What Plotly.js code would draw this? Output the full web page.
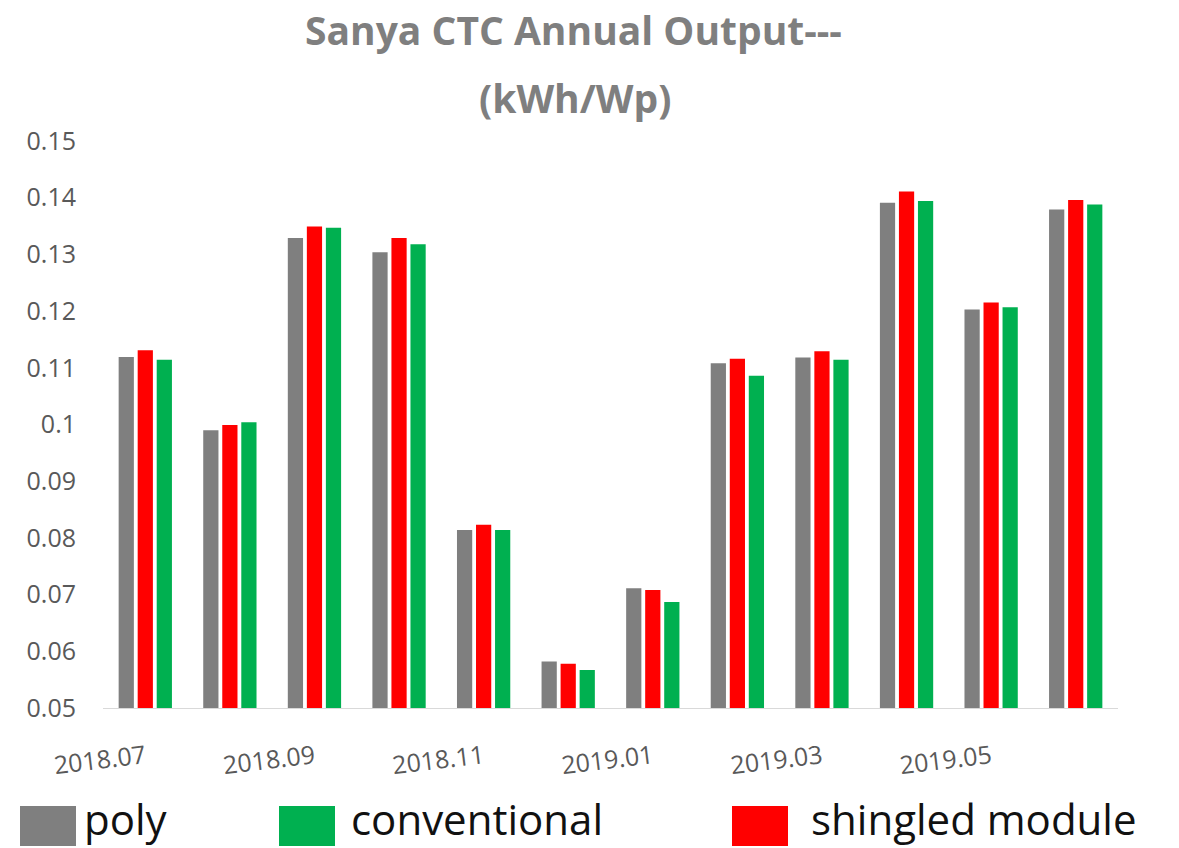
<!DOCTYPE html>
<html>
<head>
<meta charset="utf-8">
<script src="https://cdn.plot.ly/plotly-3.0.1.min.js"></script>
<style>html,body{margin:0;padding:0;background:#fff;}#chart{width:1179px;height:848px;}</style>
</head>
<body>
<div id="chart"></div>
<script>
// ---- data ----
const months = ['2018.07','2018.08','2018.09','2018.10','2018.11','2018.12','2019.01','2019.02','2019.03','2019.04','2019.05','2019.06'];
const tickLabels = ['2018.07','2018.09','2018.11','2019.01','2019.03','2019.05'];
const poly         = [0.1119, 0.0990, 0.1329, 0.1304, 0.0814, 0.0582, 0.0711, 0.1108, 0.1118, 0.1391, 0.1203, 0.1379];
const shingled     = [0.1131, 0.0999, 0.1349, 0.1329, 0.0823, 0.0578, 0.0708, 0.1116, 0.1129, 0.1411, 0.1215, 0.1396];
const conventional = [0.1114, 0.1004, 0.1347, 0.1318, 0.0814, 0.0567, 0.0687, 0.1086, 0.1114, 0.1394, 0.1207, 0.1388];
const seriesNames  = ['poly', 'conventional', 'shingled module'];
const titleLines   = ['Sanya CTC Annual Output---', '(kWh/Wp)'];

// ---- styling ----
const colors = {poly:'#7f7f7f', conventional:'#00b050', shingled:'#ff0000'};
const W = 1179, H = 848;
const M = {l:103, r:61, t:141, b:140};
const PW = W - M.l - M.r, PH = H - M.t - M.b;
const px = x => (x - M.l) / PW;          // pixel -> paper x
const py = y => (H - M.b - y) / PH;      // pixel -> paper y

const traces = [
  {type:'bar', name:seriesNames[0], x:months, y:poly, marker:{color:colors.poly}, showlegend:false},
  {type:'bar', name:seriesNames[2], x:months, y:shingled, marker:{color:colors.shingled}, showlegend:false},
  {type:'bar', name:seriesNames[1], x:months, y:conventional, marker:{color:colors.conventional}, showlegend:false}
];

// manual legend (large swatches as in the reference)
const legendItems = [
  {name:seriesNames[0], color:colors.poly, sx:20, tx:82},
  {name:seriesNames[1], color:colors.conventional, sx:279, tx:349},
  {name:seriesNames[2], color:colors.shingled, sx:732, tx:809}
];
const shapes = legendItems.map(it => ({
  type:'rect', xref:'paper', yref:'paper',
  x0:px(it.sx), x1:px(it.sx+56), y0:py(846), y1:py(806),
  fillcolor:it.color, line:{width:0}
}));
const annotations = legendItems.map(it => ({
  xref:'paper', yref:'paper', x:px(it.tx), y:py(849), xanchor:'left', yanchor:'bottom',
  text:it.name, showarrow:false, font:{family:'Open Sans', size:42, color:'#111111'}
}));
annotations.push(
  {xref:'paper', yref:'paper', x:px(573), y:py(29), xanchor:'center', yanchor:'middle', text:titleLines[0], showarrow:false,
   font:{family:'Open Sans', size:39, color:'#7f7f7f', weight:700}},
  {xref:'paper', yref:'paper', x:px(575), y:py(97), xanchor:'center', yanchor:'middle', text:titleLines[1], showarrow:false,
   font:{family:'Open Sans', size:39, color:'#7f7f7f', weight:700}}
);

const layout = {
  width:W, height:H,
  margin:M,
  paper_bgcolor:'#ffffff', plot_bgcolor:'#ffffff',
  barmode:'group', bargap:0.325, bargroupgap:0.2,
  showlegend:false,
  xaxis:{
    type:'category', categoryorder:'array', categoryarray:months,
    tickmode:'array', tickvals:tickLabels, ticktext:tickLabels,
    tickangle:-7, ticks:'', showgrid:false, zeroline:false,
    showline:true, linecolor:'#d9d9d9', linewidth:1,
    ticklabelstandoff:24,
    tickfont:{family:'Open Sans', size:25, color:'#595959'}
  },
  yaxis:{
    range:[0.05, 0.15], dtick:0.01, tick0:0.05,
    showgrid:false, zeroline:false, showline:false, ticks:'',
    ticklabelstandoff:26,
    tickfont:{family:'Open Sans', size:25, color:'#595959'}
  },
  shapes:shapes,
  annotations:annotations
};

Plotly.newPlot('chart', traces, layout, {displayModeBar:false, staticPlot:true});
</script>
</body>
</html>
